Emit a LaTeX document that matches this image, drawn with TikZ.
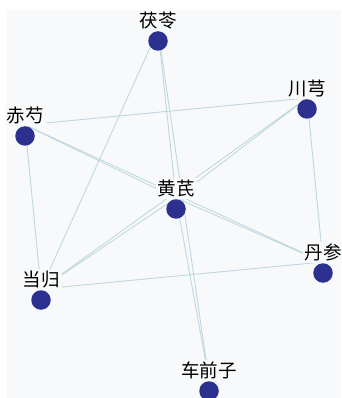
\documentclass[tikz,border=0pt]{standalone}
\usepackage{fontspec}
\newfontfamily\cjk{Noto Sans CJK SC}
\definecolor{herbblue}{RGB}{44,48,142}
\definecolor{linkcol}{RGB}{192,215,223}
\definecolor{bgcol}{RGB}{248,249,250}
\begin{document}
\begin{tikzpicture}[x=1pt, y=-1pt,
    herb/.style={circle, fill=herbblue, minimum size=19.5pt, inner sep=0pt},
    lab/.style={font=\cjk\fontsize{18.5}{18.5}\selectfont, fill=bgcol, inner sep=2pt, label distance=-0.5pt},
    link/.style={draw=linkcol, line width=0.9pt}]
    \useasboundingbox (0,0) rectangle (341,398);
    \fill[bgcol] (7,10) rectangle (341,398);

    % Edge anchors
    \coordinate (fl) at (158,30);
    \coordinate (cx) at (307,98);
    \coordinate (cs) at (25,125);
    \coordinate (hq) at (176,198);
    \coordinate (ds) at (323,262);
    \coordinate (dg) at (41,289);
    \coordinate (cq) at (209,380);

    % Edges
    \draw[link] (fl) -- (hq);
    \draw[link] (fl) -- (cq);
    \draw[link] (hq) -- (cq);
    \draw[link] (fl) -- (dg);
    \draw[link] (cs) -- (cx);
    \draw[link] (cs) -- (hq);
    \draw[link] (cs) -- (ds);
    \draw[link] (hq) -- (ds);
    \draw[link] (cx) -- (hq);
    \draw[link] (cx) -- (dg);
    \draw[link] (hq) -- (dg);
    \draw[link] (cx) -- (ds);
    \draw[link] (cs) -- (dg);
    \draw[link] (dg) -- (ds);

    % Nodes
    \node[herb, label={[lab]above:茯苓}] (fl-dot) at (158,41) {};
    \node[herb, label={[lab]above:川芎}] (cx-dot) at (307,109) {};
    \node[herb, label={[lab]above:赤芍}] (cs-dot) at (25,136) {};
    \node[herb, label={[lab]above:黄芪}] (hq-dot) at (176,209) {};
    \node[herb, label={[lab]above:丹参}] (ds-dot) at (323,273) {};
    \node[herb, label={[lab]above:当归}] (dg-dot) at (41,300) {};
    \node[herb, label={[lab]above:车前子}] (cq-dot) at (209,391) {};
\end{tikzpicture}
\end{document}
